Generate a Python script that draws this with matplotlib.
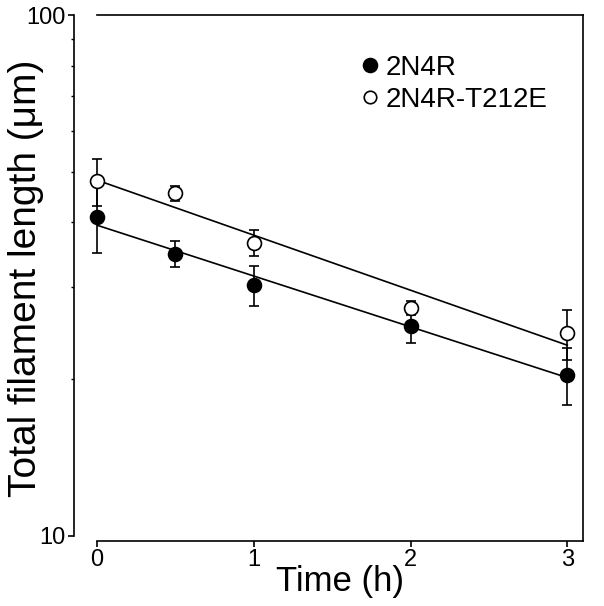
import numpy as np
import matplotlib.pyplot as plt
from matplotlib.lines import Line2D

plt.rcParams['font.family'] = ['Liberation Sans', 'DejaVu Sans']

# Data
time_h = [0, 0.5, 1, 2, 3]
wt_mean = [41.0, 34.8, 30.3, 25.3, 20.4]
wt_err = [6.0, 2.0, 2.7, 1.8, 2.6]
mut_mean = [48.0, 45.5, 36.5, 27.4, 24.5]
mut_err = [5.0, 1.5, 2.1, 0.8, 2.7]
labels = ['2N4R', '2N4R-T212E']

fig = plt.figure(figsize=(6.04, 6.06), dpi=100)
ax = fig.add_axes([0.1606, 0.1073, 0.8046, 0.8679])

t = np.array(time_h)
for mean, err, face in [(wt_mean, wt_err, 'black'), (mut_mean, mut_err, 'white')]:
    # exponential fit (straight line on log axis)
    k, b = np.polyfit(t, np.log10(mean), 1)
    xs = np.array([0, 3])
    ax.plot(xs, 10 ** (b + k * xs), color='black', lw=1.2, zorder=2)
    eb = ax.errorbar(t, mean, yerr=err, fmt='none', ecolor='black', elinewidth=1.2,
                     capsize=3.6, capthick=1.2, zorder=3)
    for art in eb.get_children():
        art.set_clip_on(False)
    ax.plot(t, mean, 'o', ms=10, mfc=face, mec='black', mew=1.2, zorder=4, clip_on=False)

ax.set_yscale('log')
ax.set_ylim(9.78, 100)
ax.set_xlim(0, 3.1)
ax.set_xticks([0, 1, 2, 3])
ax.set_yticks([10, 100])
ax.set_yticklabels(['10', '100'])
ax.yaxis.set_minor_formatter(plt.NullFormatter())

ax.spines['left'].set_position(('outward', 16.5))
ax.spines['left'].set_bounds(10, 100)
for s in ax.spines.values():
    s.set_linewidth(1.2)

ax.tick_params(axis='both', which='major', direction='out', length=4, width=1.2,
               labelsize=17, pad=2)
ax.tick_params(axis='y', which='minor', direction='out', length=2.5, width=1.0)

ax.set_xlabel('Time (h)', fontsize=25)
ax.xaxis.set_label_coords(0.5, -0.046)
ax.set_ylabel('Total filament length (\u03bcm)', fontsize=28, va='center')
ax.yaxis.set_label_coords(-0.146, 0.5)

handles = [Line2D([], [], ls='none', marker='o', ms=10, mfc='black', mec='black', mew=1.2),
           Line2D([], [], ls='none', marker='o', ms=9, mfc='white', mec='black', mew=1.2)]
ax.legend(handles, labels, loc='upper left', bbox_to_anchor=(0.545, 0.924), frameon=False,
          fontsize=20, handletextpad=0.25, handlelength=0.6, labelspacing=0.2,
          borderaxespad=0, borderpad=0)

fig.savefig('out.png', dpi=100)
